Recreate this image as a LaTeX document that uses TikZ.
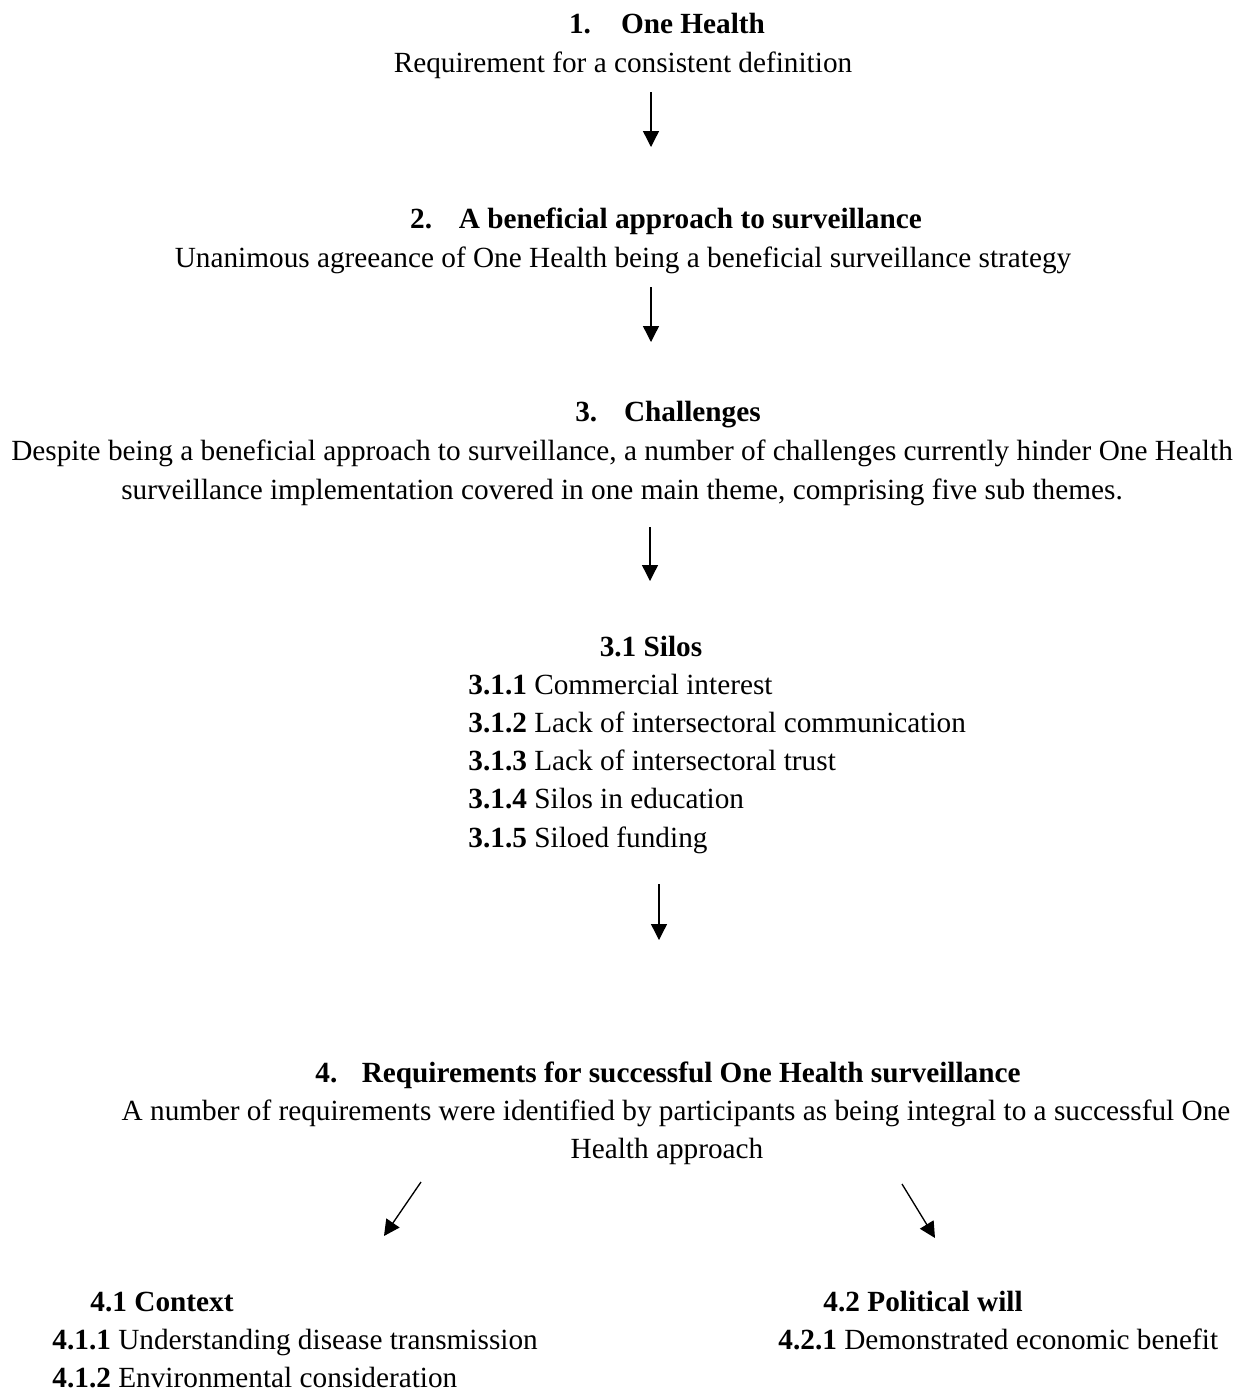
\documentclass[tikz,border=0pt]{standalone}
\usepackage{fontspec}
\setmainfont{Liberation Serif}
\usetikzlibrary{arrows.meta}
\begin{document}
\begin{tikzpicture}[x=0.41pt,y=-0.41pt,
        txt/.style={inner sep=0pt,anchor=base,font=\fontsize{12}{14}\selectfont},
        lft/.style={txt,anchor=base west},
        arr/.style={-{Triangle[width=6.5pt,length=6.5pt]},line width=0.55pt}]
    \useasboundingbox (0,0) rectangle (1247,1390);
    % 1
    \node[txt] (h1) at (667,33) {\textbf{1.\hspace{12.3pt}One Health}};
    \node[txt] (d1) at (623,72) {Requirement for a consistent definition};
    % 2
    \node[txt] (h2) at (666,228) {\textbf{2.\hspace{11pt}A beneficial approach to surveillance}};
    \node[txt] (d2) at (623,267) {Unanimous agreeance of One Health being a beneficial surveillance strategy};
    % 3
    \node[txt] (h3) at (668,421) {\textbf{3.\hspace{11pt}Challenges}};
    \node[txt] (d3a) at (622,460) {Despite being a beneficial approach to surveillance, a number of challenges currently hinder One Health};
    \node[txt] (d3b) at (622,499) {surveillance implementation covered in one main theme, comprising five sub themes.};
    % 3.1
    \node[txt] (s0) at (651,656) {\textbf{3.1 Silos}};
    \foreach \n/\t in {1/Commercial interest,2/Lack of intersectoral communication,
            3/Lack of intersectoral trust,4/Silos in education,5/Siloed funding}
        \node[lft] (s\n) at (468,{656+38.2*\n}) {\textbf{3.1.\n} \t};
    % 4
    \node[txt] (h4) at (668,1082) {\textbf{4.\hspace{10pt}Requirements for successful One Health surveillance}};
    \node[txt] (d4a) at (676,1120) {A number of requirements were identified by participants as being integral to a successful One};
    \node[txt] (d4b) at (667,1158) {Health approach};
    % 4.1 and 4.2
    \node[lft] (c0) at (90,1311) {\textbf{4.1 Context}};
    \node[lft] (c1) at (52,1349) {\textbf{4.1.1} Understanding disease transmission};
    \node[lft] (c2) at (52,1387) {\textbf{4.1.2} Environmental consideration};
    \node[lft] (p0) at (823,1311) {\textbf{4.2 Political will}};
    \node[lft] (p1) at (778,1349) {\textbf{4.2.1} Demonstrated economic benefit};
    % arrows
    \coordinate (a1s) at (651,92);  \coordinate (a1e) at (651,147);
    \coordinate (a2s) at (651,287); \coordinate (a2e) at (651,342);
    \coordinate (a3s) at (650,527); \coordinate (a3e) at (650,581);
    \coordinate (a4s) at (659,884); \coordinate (a4e) at (659,940);
    \coordinate (als) at (421,1182); \coordinate (ale) at (384,1236);
    \coordinate (ars) at (902,1184); \coordinate (are) at (935,1238);
    \draw[arr] (a1s) -- (a1e);
    \draw[arr] (a2s) -- (a2e);
    \draw[arr] (a3s) -- (a3e);
    \draw[arr] (a4s) -- (a4e);
    \draw[arr] (als) -- (ale);
    \draw[arr] (ars) -- (are);
\end{tikzpicture}
\end{document}
